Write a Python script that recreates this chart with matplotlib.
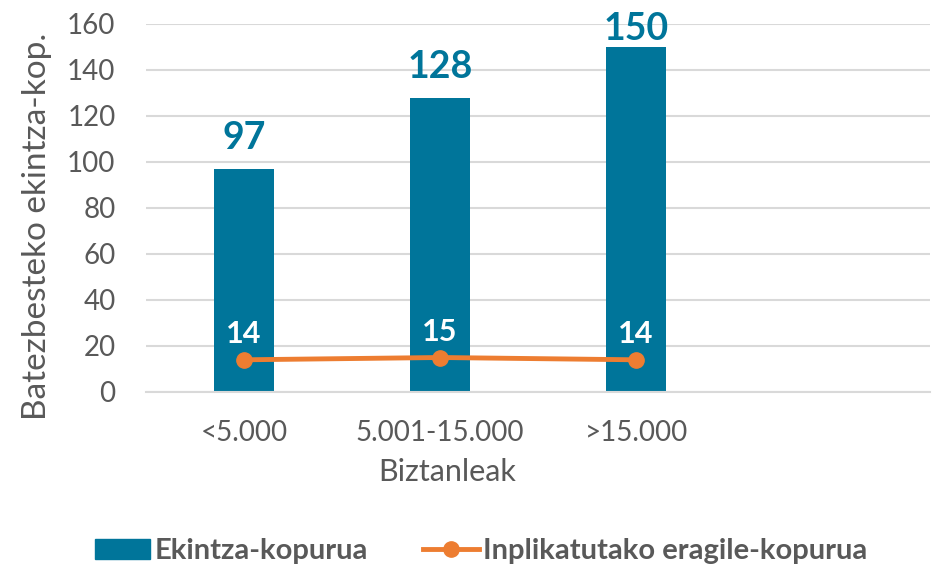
import matplotlib
matplotlib.use("Agg")
import matplotlib.pyplot as plt
from matplotlib.lines import Line2D
from matplotlib.patches import Patch
import numpy as np

categories = ["<5.000", "5.001-15.000", ">15.000", ""]
ekintza = [97, 128, 150]
eragile = [14, 15, 14]
yticks = [0, 20, 40, 60, 80, 100, 120, 140, 160]

BLUE = "#00759A"
ORANGE = "#ED7D31"
GRAY = "#595959"
GRID = "#D9D9D9"

plt.rcParams['font.family'] = ['Lato', 'DejaVu Sans']

W, H = 935, 566
fig = plt.figure(figsize=(W / 100, H / 100), dpi=100)
ax = fig.add_axes([146 / W, (H - 392) / H, (930 - 146) / W, (392 - 24) / H])

x = np.arange(len(categories))
xb = x[:len(ekintza)]
ax.bar(xb, ekintza, width=0.31, color=BLUE, zorder=2)
ax.plot(xb, eragile, color=ORANGE, lw=3.5, marker="o", ms=11, zorder=3,
        solid_capstyle="round")

ymax = 160
for xi, v in zip(xb, ekintza):
    # labels near the top of the axis are pulled down to stay inside the figure
    off = 10 if v < 0.9 * ymax else 1
    ax.annotate(str(v), (xi, v), xytext=(0, off), textcoords="offset points",
                ha="center", va="bottom", fontsize=27, fontweight="bold", color=BLUE,
                annotation_clip=False)
for xi, v in zip(xb, eragile):
    ax.annotate(str(v), (xi, v), xytext=(0, 8.5), textcoords="offset points",
                ha="center", va="bottom", fontsize=22, fontweight="bold", color="white",
                zorder=4)

ax.set_xlim(-0.5, len(categories) - 0.5)
ax.set_ylim(0, ymax)
ax.set_yticks(yticks)
ax.set_xticks(x)
ax.set_xticklabels(categories)
ax.yaxis.grid(True, color=GRID, lw=1.5, zorder=0)
ax.set_axisbelow(True)
for s in ["top", "right", "left"]:
    ax.spines[s].set_visible(False)
ax.spines["bottom"].set_color(GRID)
ax.spines["bottom"].set_linewidth(1.5)
ax.tick_params(axis="both", length=0, labelsize=20, colors=GRAY)
ax.tick_params(axis="y", pad=22)
ax.tick_params(axis="x", pad=20)

fig.text(447 / W, 1 - 472 / H, "Biztanleak", ha="center", va="center", fontsize=22, color=GRAY)
fig.text(37 / W, 1 - 226 / H, "Batezbesteko ekintza-kop.", ha="center", va="center",
         rotation=90, fontsize=24, color=GRAY)

handles = [Patch(facecolor=BLUE, edgecolor=BLUE),
           Line2D([0], [0], color=ORANGE, lw=3.5, marker="o", ms=11)]
leg = fig.legend(handles, ["Ekintza-kopurua", "Inplikatutako eragile-kopurua"],
                 loc="center", bbox_to_anchor=(481 / W, 1 - 551 / H), ncol=2, frameon=False,
                 prop={"size": 21, "weight": "bold"}, handlelength=1.9, handletextpad=0.15,
                 columnspacing=1.9)
for t in leg.get_texts():
    t.set_color(GRAY)

fig.savefig("out.png", dpi=100)
